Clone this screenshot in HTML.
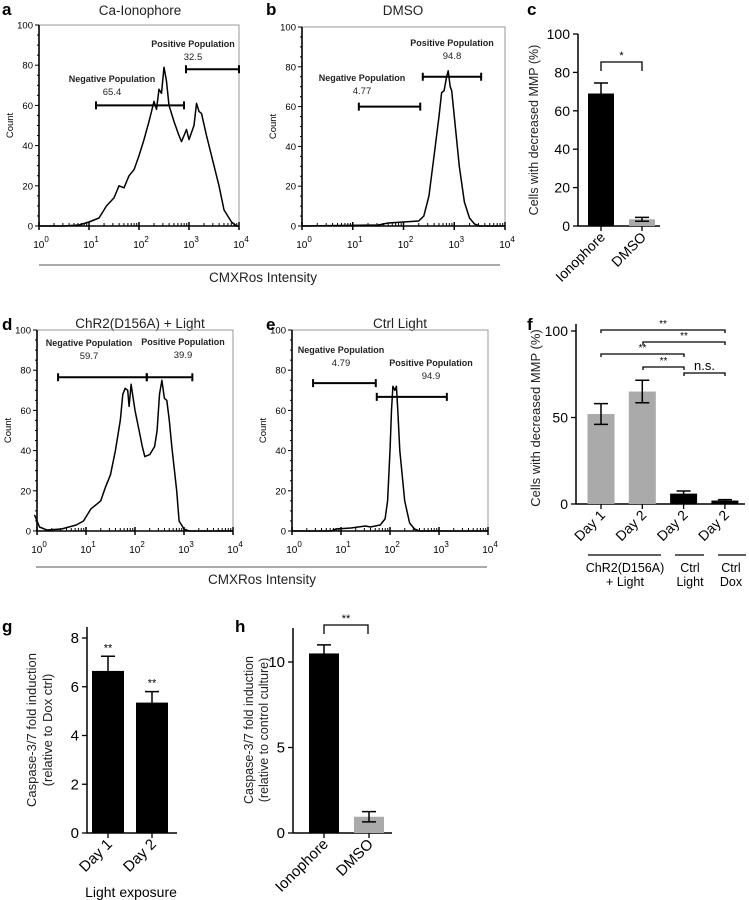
<!DOCTYPE html>
<html><head><meta charset="utf-8">
<style>
html,body{margin:0;padding:0;background:#fff;}
svg{display:block;font-family:"Liberation Sans",Arial,sans-serif;}
</style></head>
<body>
<svg id="fig" width="749" height="900" viewBox="0 0 749 900" xmlns="http://www.w3.org/2000/svg">
<g font-weight="bold" font-size="17">
<text x="2" y="15">a</text>
<text x="266" y="15">b</text>
<text x="527" y="15">c</text>
<text x="2" y="330">d</text>
<text x="266" y="330">e</text>
<text x="527" y="330">f</text>
<text x="2" y="632">g</text>
<text x="235" y="632">h</text>
</g>
<g font-size="13.5" text-anchor="middle" fill="#222">
<text x="140" y="15">Ca-Ionophore</text>
<text x="403" y="15">DMSO</text>
<text x="140" y="328">ChR2(D156A) + Light</text>
<text x="400" y="328">Ctrl Light</text>
<text x="263" y="282">CMXRos Intensity</text>
<text x="262" y="584">CMXRos Intensity</text>
</g>
<line x1="39" y1="265" x2="500" y2="265" stroke="#777" stroke-width="1.3"/>
<line x1="36" y1="567" x2="487" y2="567" stroke="#777" stroke-width="1.3"/>
</svg>
<script>
const NS="http://www.w3.org/2000/svg";
const svg=document.getElementById('fig');
function mk(tag,attrs,parent){const e=document.createElementNS(NS,tag);for(const k in attrs)e.setAttribute(k,attrs[k]);(parent||svg).appendChild(e);return e;}

// ===== Histogram data (x = log10 intensity, y = count) =====
const aLogX=[0,0.5,0.8,1.0,1.2,1.35,1.5,1.6,1.7,1.8,1.9,2.0,2.1,2.2,2.3,2.35,2.4,2.45,2.5,2.55,2.6,2.7,2.8,2.85,2.95,3.0,3.1,3.15,3.2,3.25,3.35,3.5,3.6,3.7,3.85,3.95,4.0];
const aCount=[0,0,0.5,2,4,10,14,20,19,25,28,35,43,52,62,58,68,66,79,72,60,52,45,42,48,43,50,61,57,56,45,30,20,8,2,0,0];
const aGateNeg=[1.14,2.9,60];const aGatePos=[2.94,4.0,78];
const aNegVal="65.4", aPosVal="32.5";

const bLogX=[0,1.5,1.7,2.0,2.3,2.4,2.5,2.6,2.7,2.75,2.8,2.85,2.88,2.92,2.95,3.0,3.1,3.2,3.3,3.4,3.5,4.0];
const bCount=[0,0.5,1.5,2,2.5,5,15,35,55,67,68,75,78,70,68,55,30,12,4,1,0,0];
const bGateNeg=[1.12,2.33,60];const bGatePos=[2.38,3.53,75];
const bNegVal="4.77", bPosVal="94.8";

const dLogX=[-0.05,0.05,0.2,0.5,0.8,0.95,1.1,1.3,1.4,1.5,1.6,1.7,1.75,1.8,1.85,1.88,1.92,1.95,2.0,2.1,2.15,2.2,2.3,2.4,2.45,2.5,2.55,2.6,2.65,2.7,2.75,2.85,2.9,3.0,3.1,4.0];
const dCount=[8,2,0.5,1,3,5,11,15,22,28,40,55,68,71,70,62,73,68,60,48,42,37,38,42,50,68,75,66,65,55,42,20,5,1,0,0];
const dGateNeg=[0.43,2.24,76.5];const dGatePos=[2.24,3.17,76.5];
const dNegVal="59.7", dPosVal="39.9";

const eLogX=[0,0.8,0.9,1.2,1.5,1.6,1.8,1.9,1.95,2.0,2.03,2.06,2.1,2.13,2.16,2.2,2.3,2.4,2.5,2.6,4.0];
const eCount=[0,0,1,1.5,2.5,2,3,6,15,40,60,72,70,72,60,40,15,4,1,0,0];
const eGateNeg=[0.43,1.71,73.6];const eGatePos=[1.73,3.16,66.7];
const eNegVal="4.79", ePosVal="94.9";

const histTicks=[0,20,40,60,80,100];
const decades=[0,1,2,3,4];

function hist(id,L,R,Y0,Y100,lx,cy,gn,gp,nv,pv,negLbl,posLbl){
  const g=mk('g',{});
  
  
  const X=v=>L+(R-L)*v/4, Y=v=>Y0+(Y100-Y0)*v/100;
  const box=mk('path',{d:`M${L} ${Y(100)}H${R}V${Y0}`,fill:'none',stroke:'#999','stroke-width':1},g);
  
  const ya=mk('line',{x1:L,y1:Y(100),x2:L,y2:Y0,stroke:'#000','stroke-width':1.6},g);
  
  const xa=mk('line',{x1:L,y1:Y0,x2:R,y2:Y0,stroke:'#000','stroke-width':1.6},g);
  
  for(let v=0;v<=100;v+=5){mk('line',{x1:L-(v%20?2:4),y1:Y(v),x2:L,y2:Y(v),stroke:'#000','stroke-width':1},g);}
  histTicks.forEach(v=>{const t=mk('text',{x:L-6,y:Y(v)+3.5,'font-size':9.5,'text-anchor':'end'},g);t.textContent=v;
    });
  for(let d=0;d<4;d++)for(let k=2;k<=9;k++){const x=X(d+Math.log10(k));mk('line',{x1:x,y1:Y0-3,x2:x,y2:Y0,stroke:'#000','stroke-width':1},g);}
  decades.forEach(d=>{mk('line',{x1:X(d),y1:Y0-4,x2:X(d),y2:Y0+4,stroke:'#000','stroke-width':1.5},g);
    const t=mk('text',{x:X(d)+2,y:Y0+22,'font-size':10,'text-anchor':'middle'},g);
    t.innerHTML='10<tspan dy="-6" font-size="8">'+d+'</tspan>';
    });
  const yl=mk('text',{x:0,y:0,'font-size':9.5,'text-anchor':'middle',transform:`translate(${L-26},${(Y0+Y(100))/2}) rotate(-90)`},g);
  yl.textContent='Count';
  let d='';lx.forEach((v,i)=>{d+=(i?'L':'M')+X(Math.max(v,-0.05)).toFixed(1)+' '+Y(cy[i]).toFixed(1);});
  const p=mk('path',{d:d,fill:'none',stroke:'#000','stroke-width':1.5,'stroke-linejoin':'round'},g);
  
  [[gn,'negative-gate',negLbl,nv],[gp,'positive-gate',posLbl,pv]].forEach(([gt,nm,lb,val])=>{
    const y=Y(gt[2]);
    const gg=mk('path',{d:`M${X(gt[0])} ${y}H${X(gt[1])}M${X(gt[0])} ${y-4}V${y+4}M${X(gt[1])} ${y-4}V${y+4}`,stroke:'#000','stroke-width':2,fill:'none'},g);
    
    const t1=mk('text',{x:lb[0],y:lb[1],'font-size':9,'font-weight':'bold','text-anchor':'middle',fill:'#222'},g);
    t1.textContent=nm==='negative-gate'?'Negative Population':'Positive Population';
    
    const t2=mk('text',{x:lb[0],y:lb[1]+13,'font-size':9.5,'text-anchor':'middle',fill:'#222'},g);
    t2.textContent=val;
  });
  return g;
}
hist('a',39,239,226,25,aLogX,aCount,aGateNeg,aGatePos,aNegVal,aPosVal,[112,82],[193,47]);
hist('b',302,505,226,27,bLogX,bCount,bGateNeg,bGatePos,bNegVal,bPosVal,[362,81],[452,46]);
hist('d',37,233,531,330,dLogX,dCount,dGateNeg,dGatePos,dNegVal,dPosVal,[89,346],[183,345]);
hist('e',292,488,531,330,eLogX,eCount,eGateNeg,eGatePos,eNegVal,ePosVal,[341,353],[431,366]);

// ===== Bar chart data =====
const cCats=["Ionophore","DMSO"];const cVals=[69,3.5];const cErr=[5.5,1];const cColors=["#000","#aaa"];const cTicks=[0,20,40,60,80,100];
const fCats=["Day 1","Day 2","Day 2","Day 2"];const fVals=[52,65,6,2];const fErr=[6,6.5,1.5,0.5];const fColors=["#aaa","#aaa","#000","#000"];const fTicks=[0,50,100];
const gCats=["Day 1","Day 2"];const gVals=[6.65,5.35];const gErr=[0.6,0.45];const gTicks=[0,2,4,6,8];
const hCats=["Ionophore","DMSO"];const hVals=[10.5,0.95];const hErr=[0.5,0.3];const hColors=["#000","#aaa"];const hTicks=[0,5,10];

function bars(id,cfg){
  const g=mk('g',{});
  
  
  const Y=v=>cfg.y0-(cfg.y0-cfg.yMaxPx)*v/cfg.yMax;
  const ya=mk('line',{x1:cfg.ax,y1:cfg.top,x2:cfg.ax,y2:cfg.y0,stroke:'#000','stroke-width':1.5},g);
  
  const xa=mk('line',{x1:cfg.ax,y1:cfg.y0,x2:cfg.xr,y2:cfg.y0,stroke:'#000','stroke-width':1.5},g);
  
  cfg.ticks.forEach(v=>{mk('line',{x1:cfg.ax-5,y1:Y(v),x2:cfg.ax,y2:Y(v),stroke:'#000','stroke-width':1.3},g);
    const t=mk('text',{x:cfg.ax-8,y:Y(v)+5,'font-size':cfg.fs,'text-anchor':'end'},g);t.textContent=v;
    });
  const step=cfg.step;
  cfg.vals.forEach((v,i)=>{
    const cx=cfg.x0+i*step;
    const b=mk('rect',{x:cx-cfg.bw/2,y:Y(v),width:cfg.bw,height:cfg.y0-Y(v),fill:cfg.colors[i]},g);
    
    
    const e=cfg.err[i];
    const eb=mk('path',{d:`M${cx} ${Y(v)}V${Y(v+e)}M${cx-7} ${Y(v+e)}H${cx+7}`+(cfg.twoSided?`M${cx} ${Y(v)}V${Y(v-e)}M${cx-7} ${Y(v-e)}H${cx+7}`:''),stroke:'#000','stroke-width':1.5,fill:'none'},g);
    
    mk('line',{x1:cx,y1:cfg.y0,x2:cx,y2:cfg.y0+5,stroke:'#000','stroke-width':1.3},g);
    const t=mk('text',{x:0,y:0,'font-size':cfg.fs,'text-anchor':'end',transform:`translate(${cx+5},${cfg.y0+12}) rotate(-45)`},g);
    t.textContent=cfg.cats[i];
    if(cfg.stars){const s=mk('text',{x:cx,y:Y(v+e)-5,'font-size':11,'text-anchor':'middle'},g);s.textContent='**';
      }
  });
  cfg.ylab.forEach((ln,k)=>{const t=mk('text',{x:0,y:0,'font-size':cfg.lfs,'text-anchor':'middle',fill:'#222',transform:`translate(${cfg.lx+k*cfg.lgap},${cfg.lcy}) rotate(-90)`},g);
    t.textContent=ln;});
  return {g,Y};
}
const c=bars('c',{ax:578,xr:660,y0:226,yMaxPx:34,yMax:100,top:34,ticks:cTicks,fs:14,vals:cVals,err:cErr,colors:cColors,cats:cCats,x0:601,step:41,bw:26,twoSided:true,
  ylab:["Cells with decreased MMP (%)"],lx:538,lgap:0,lcy:130,lfs:12.5});
const f=bars('f',{ax:576,xr:745,y0:504,yMaxPx:331,yMax:100,top:324,ticks:fTicks,fs:14,vals:fVals,err:fErr,colors:fColors,cats:fCats,x0:601,step:41.3,bw:27,twoSided:true,
  ylab:["Cells with decreased MMP (%)"],lx:540,lgap:0,lcy:418,lfs:13});
const gg=bars('g',{ax:87,xr:177,y0:833,yMaxPx:638,yMax:8,top:627,ticks:gTicks,fs:15,vals:gVals,err:gErr,colors:["#000","#000"],cats:gCats,x0:108,step:44,bw:32,twoSided:false,stars:true,
  ylab:["Caspase-3/7 fold induction","(relative to Dox ctrl)"],lx:36,lgap:16,lcy:730,lfs:13});
const h=bars('h',{ax:293,xr:392,y0:833,yMaxPx:662,yMax:10,top:628,ticks:hTicks,fs:15,vals:hVals,err:hErr,colors:hColors,cats:hCats,x0:324,step:45,bw:30,twoSided:true,
  ylab:["Caspase-3/7 fold induction","(relative to control culture)"],lx:253,lgap:15,lcy:730,lfs:12.5});

function bracket(x1,x2,y,drop,label,fs,name){
  const p=mk('path',{d:`M${x1} ${y+drop}V${y}H${x2}V${y+drop}`,stroke:'#000','stroke-width':1.3,fill:'none'});
  
  const t=mk('text',{x:(x1+x2)/2,y:y-3,'font-size':fs,'text-anchor':'middle'});t.textContent=label;
  
}
bracket(601,642,62,9,'*',11,'significance-bracket-c');
bracket(601,725,330,3,'**',10,'significance-bracket-f1');
bracket(643,725,342,3,'**',10,'significance-bracket-f2');
bracket(601,684,354,3,'**',10,'significance-bracket-f3');
bracket(643,684,367,3,'**',10,'significance-bracket-f4');
bracket(684,725,373,3,'n.s.',13,'significance-bracket-f5');
bracket(324,368,625,9,'**',11,'significance-bracket-h');

// group labels f
[[588,661,625,"ChR2(D156A)","+ Light"],[675,704,690,"Ctrl","Light"],[718,746,731,"Ctrl","Dox"]].forEach((gr,i)=>{
  const l=mk('line',{x1:gr[0],y1:555,x2:gr[1],y2:555,stroke:'#000','stroke-width':1.3});
  
  const t=mk('text',{x:gr[2],y:572,'font-size':12.5,'text-anchor':'middle'});t.textContent=gr[3];
  
  const t2=mk('text',{x:gr[2],y:586,'font-size':12.5,'text-anchor':'middle'});t2.textContent=gr[4];
  
});
const le=mk('text',{x:131,y:897,'font-size':14,'text-anchor':'middle'});le.textContent='Light exposure';

</script>
</body></html>
